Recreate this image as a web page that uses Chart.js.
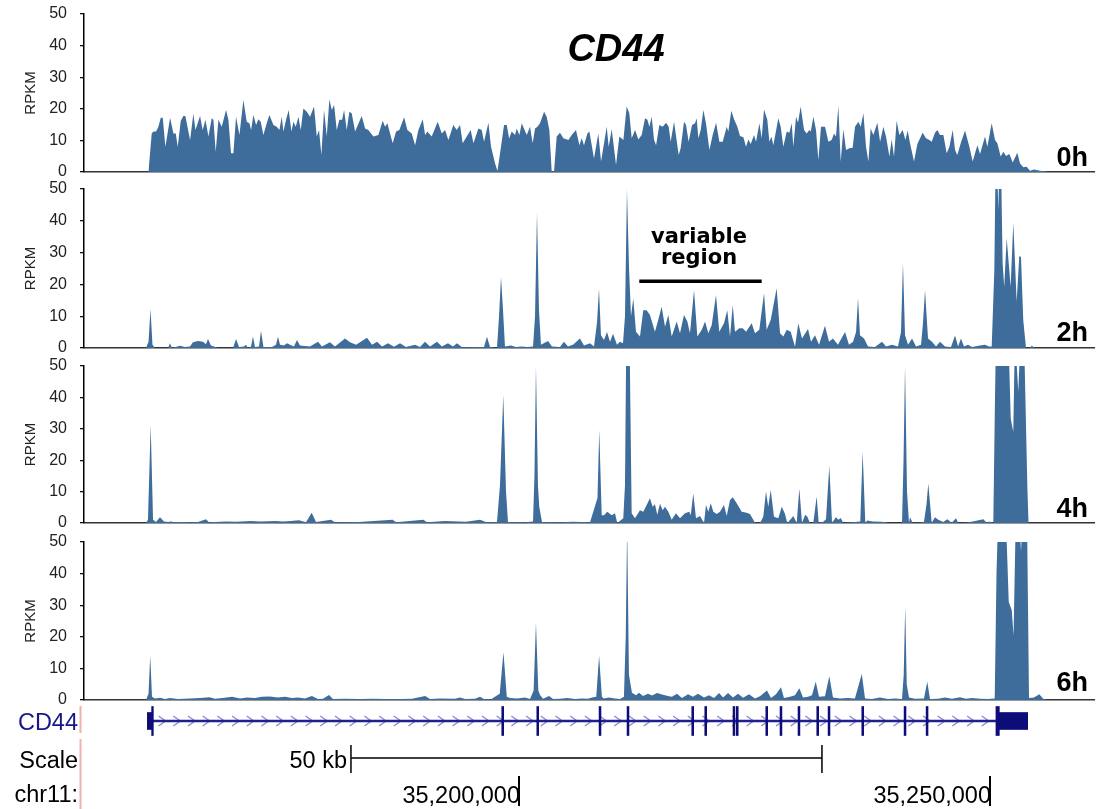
<!DOCTYPE html>
<html>
<head>
<meta charset="utf-8">
<script src="https://cdn.jsdelivr.net/npm/chart.js@4.4.1/dist/chart.umd.min.js"></script>
<style>
  html, body { margin: 0; padding: 0; background: #fff; }
  body { width: 1097px; height: 809px; position: relative; overflow: hidden;
         font-family: "Liberation Sans", Arial, Helvetica, sans-serif; }
  canvas { position: absolute; left: 0; }
  .lbl { position: absolute; line-height: 1; white-space: nowrap; color: #000; }
  .hour { right: 9px; font-size: 27px; font-weight: bold; }
  .title { left: 516px; width: 200px; text-align: center; top: 29px;
           font-size: 38px; font-weight: bold; font-style: italic; }
  .region { left: 599px; width: 200px; text-align: center; font-size: 21px;
            font-weight: bold; font-family: "DejaVu Sans", Verdana, sans-serif; }
</style>
</head>
<body>
<canvas id="t0" width="1097" height="200"></canvas>
<canvas id="t1" width="1097" height="200"></canvas>
<canvas id="t2" width="1097" height="200"></canvas>
<canvas id="t3" width="1097" height="200"></canvas>
<canvas id="gene" width="1097" height="109"></canvas>
<div class="lbl title">CD44</div>
<div class="lbl hour" style="top:144px">0h</div>
<div class="lbl hour" style="top:319px">2h</div>
<div class="lbl hour" style="top:495px">4h</div>
<div class="lbl hour" style="top:669px">6h</div>
<div class="lbl region" style="top:226px">variable</div>
<div class="lbl region" style="top:247px">region</div>

<script>
// Genomic window on chr11, in kb
const X_MIN_KB = 35153.82;
const X_MAX_KB = 35261.04;
const Y_TICKS = [0, 10, 20, 30, 40, 50];

// Coverage tracks: [position (kb), RPKM]
const RPKM_0H = [[35160.66,0],[35161.01,12.2],[35161.19,12.8],[35161.47,12.8],[35161.72,14.3],[35161.97,17.2],[35162.18,17.2],[35162.46,8.0],[35162.96,17.2],[35163.31,12.2],[35163.56,12.2],[35163.77,8.0],[35164.09,16.1],[35164.37,17.7],[35164.58,17.7],[35165.08,10.1],[35165.43,18.4],[35165.65,13.3],[35166.14,17.7],[35166.42,13.3],[35166.71,16.5],[35167.03,11.2],[35167.38,17.0],[35167.56,16.5],[35167.80,6.4],[35168.09,16.5],[35168.44,14.3],[35168.90,19.6],[35169.15,16.5],[35169.43,5.9],[35169.68,5.9],[35169.96,17.5],[35170.32,11.7],[35170.74,22.8],[35171.09,15.9],[35171.38,15.4],[35171.56,13.3],[35171.80,18.0],[35172.09,14.9],[35172.33,16.7],[35172.58,15.9],[35172.86,11.7],[35173.22,15.4],[35173.50,18.0],[35173.93,14.9],[35174.28,14.3],[35174.56,13.3],[35174.81,17.5],[35174.99,12.8],[35175.27,16.5],[35175.55,19.6],[35175.84,12.8],[35176.05,15.9],[35176.30,14.3],[35176.58,17.5],[35176.83,13.3],[35177.11,20.1],[35177.47,19.1],[35177.82,17.5],[35178.24,20.7],[35178.53,11.2],[35178.77,13.3],[35179.02,5.4],[35179.30,19.6],[35179.59,11.2],[35179.87,23.0],[35180.12,19.6],[35180.37,21.2],[35180.65,13.3],[35180.93,16.5],[35181.22,16.5],[35181.43,19.6],[35181.71,13.3],[35181.99,19.1],[35182.24,18.6],[35182.60,12.8],[35183.30,17.7],[35183.66,13.8],[35184.01,13.3],[35184.54,11.2],[35185.07,11.7],[35185.53,16.2],[35185.78,14.3],[35186.03,15.4],[35186.31,12.2],[35186.59,9.1],[35186.95,12.8],[35187.30,13.3],[35187.80,17.3],[35188.15,13.3],[35188.61,12.2],[35188.97,8.5],[35189.32,13.3],[35189.78,16.7],[35190.03,11.7],[35190.27,12.8],[35190.73,11.2],[35191.37,15.9],[35191.80,12.2],[35192.15,13.3],[35192.50,10.1],[35193.03,14.9],[35193.39,13.3],[35193.74,14.9],[35194.02,9.1],[35194.45,11.2],[35194.87,13.3],[35195.16,9.1],[35195.69,13.8],[35196.04,13.3],[35196.29,9.6],[35196.75,15.6],[35197.03,8.0],[35197.46,2.7],[35197.71,0.3],[35197.99,5.9],[35198.41,14.9],[35198.70,14.9],[35198.95,10.6],[35199.23,12.8],[35199.58,11.7],[35199.76,13.8],[35200.04,11.7],[35200.29,15.4],[35200.82,11.7],
[35201.17,14.3],[35201.45,9.1],[35201.70,13.8],[35201.95,14.3],[35202.23,15.4],[35202.66,19.1],[35202.94,17.5],[35203.22,13.3],[35203.47,0.2],[35203.72,0.2],[35204.00,11.2],[35204.35,12.4],[35204.71,10.7],[35205.24,10.1],[35205.59,11.7],[35206.05,13.3],[35206.41,8.5],[35206.65,10.7],[35206.90,8.5],[35207.26,12.2],[35207.47,12.8],[35207.96,4.3],[35208.42,12.2],[35208.71,3.3],[35209.31,14.3],[35209.52,8.0],[35209.84,13.5],[35210.30,2.2],[35210.65,11.2],[35211.08,10.1],[35211.43,20.7],[35211.71,18.6],[35211.96,10.7],[35212.32,13.3],[35212.67,10.3],[35213.02,11.7],[35213.38,17.0],[35213.63,16.5],[35213.84,14.3],[35214.09,17.5],[35214.33,10.3],[35214.55,8.5],[35214.90,14.9],[35215.25,14.3],[35215.61,15.6],[35215.89,14.3],[35216.10,9.6],[35216.46,15.9],[35216.95,5.4],[35217.16,7.5],[35217.52,15.9],[35217.73,14.9],[35218.01,9.6],[35218.37,14.9],[35218.69,15.4],[35218.86,17.0],[35219.04,10.7],[35219.29,13.3],[35219.57,19.6],[35219.85,15.4],[35220.21,7.0],[35220.56,11.7],[35220.92,15.6],[35221.27,9.6],[35221.62,9.6],[35222.05,14.3],[35222.22,12.8],[35222.54,19.4],[35222.83,16.7],[35223.18,14.3],[35223.46,11.4],[35223.82,11.0],[35224.10,8.0],[35224.35,10.3],[35224.60,8.9],[35224.95,11.7],[35225.16,9.6],[35225.52,15.4],[35225.76,10.7],[35226.01,19.8],[35226.36,16.5],[35226.58,9.6],[35226.79,11.2],[35227.00,8.5],[35227.53,17.0],[35227.78,14.3],[35228.06,8.0],[35228.42,12.8],[35228.70,12.4],[35228.95,15.4],[35229.12,8.0],[35229.41,17.5],[35229.62,15.6],[35229.90,20.7],[35230.26,13.3],[35230.54,12.2],[35230.82,13.3],[35230.97,12.8],[35231.25,17.5],[35231.53,13.3],[35231.78,3.8],[35232.06,14.3],[35232.49,14.3],[35232.84,9.6],[35233.19,10.1],[35233.44,12.2],[35233.65,11.2],[35233.90,20.9],[35234.15,3.3],[35234.43,13.5],[35234.72,7.0],[35235.07,7.5],[35235.42,7.7],[35235.67,14.3],[35236.03,15.9],[35236.27,14.3],[35236.56,18.6],[35236.84,8.0],[35237.09,3.3],[35237.33,13.8],[35237.62,11.7],[35238.04,15.6],[35238.33,9.6],[35238.68,14.3],[35238.96,11.2],[35239.32,4.9],[35239.56,10.3],[35239.81,4.9],[35240.09,16.2],[35240.38,11.7],[35240.73,13.3],[35241.02,10.1],[35241.26,13.1],[35241.51,9.1],[35241.93,3.3],[35242.29,8.9],[35242.85,12.4],[35243.21,10.7],[35243.56,10.1],[35243.81,9.6],[35244.16,12.4],[35244.41,13.3],[35244.69,11.7],[35245.05,11.7],[35245.40,5.9],[35245.69,8.0],[35246.04,13.3],[35246.29,7.0],[35246.53,5.4],[35246.89,9.1],[35247.35,13.1],[35247.81,8.0],[35248.16,3.3],[35248.66,8.5],[35248.94,5.7],[35249.47,11.2],[35249.72,8.0],[35250.18,15.4],[35250.53,10.1],[35250.78,9.1],[35251.13,4.9],[35251.42,6.4],[35251.70,5.1],[35252.06,5.7],[35252.41,3.0],[35252.90,6.1],[35253.19,2.7],[35253.54,1.5],[35253.89,1.7],[35254.25,0.4],[35254.67,0.8],[35255.31,0.4],[35256.37,0]];

const RPKM_2H = [[35160.40,0],[35160.67,2],[35160.88,12.3],[35161.09,1],[35161.36,0],[35162.74,0],[35162.95,1.5],[35163.16,0],[35164.01,0.7],[35164.54,0.3],[35165.07,0.5],[35165.39,1.8],[35165.92,2.2],[35166.45,2.0],[35166.77,1.2],[35166.98,2.8],[35167.30,0.8],[35167.62,0.5],[35168.04,0],[35169.64,0],[35169.96,2.8],[35170.28,0.3],[35170.81,0.5],[35171.02,1],[35171.23,0],[35171.55,0.5],[35171.76,3.6],[35171.97,0.3],[35172.40,0.5],[35172.61,5.4],[35172.87,0.3],[35173.78,0.3],[35174.20,1],[35174.41,3.5],[35174.63,1],[35175.05,0.8],[35175.37,1.5],[35175.69,1.0],[35176.11,0.5],[35176.43,2.5],[35176.75,0.8],[35177.81,0.5],[35178.66,2],[35179.08,0.5],[35179.93,1.8],[35180.46,0.5],[35181.53,3],[35182.06,1.8],[35182.70,1],[35183.33,2.2],[35183.86,3.2],[35184.40,1],[35184.93,2],[35185.46,0.5],[35186.09,1.5],[35186.73,0.4],[35187.37,1.5],[35188.00,0.3],[35188.96,1],[35189.49,0.3],[35190.02,2],[35190.55,0.5],[35191.29,2],[35191.82,0.5],[35192.46,1.5],[35192.99,0.5],[35193.42,1.5],[35193.95,0.2],[35196.28,0.3],[35196.60,3.5],[35196.92,0.3],[35197.66,0],[35197.88,10],[35198.09,22.3],[35198.30,12],[35198.51,0.5],[35199.15,0.8],[35199.68,0.3],[35200.32,0.5],[35200.85,0.3],[35201.49,0.5],[35201.70,10],[35201.91,42.8],[35202.12,12],[35202.33,1],[35203.08,2.2],[35203.50,0.5],[35204.35,0.3],[35204.77,2],[35205.20,0.5],[35205.73,1],[35206.47,3],[35206.90,0.8],[35207.54,1.5],[35207.96,0.5],[35208.28,8],[35208.49,18.6],[35208.70,4],[35209.02,2.5],[35209.34,5],[35209.66,2],[35209.98,4.5],[35210.40,1],[35210.72,2],[35211.04,1.5],[35211.25,10],[35211.46,50],[35211.68,25],[35211.89,10],[35212.13,15.6],[35212.42,5.1],[35212.84,3.6],[35213.19,11.9],[35213.55,11.9],[35213.90,10.4],[35214.43,5.1],[35214.78,8.8],[35215.14,13.0],[35215.50,6.7],[35215.85,10.4],[35216.21,3.6],[35216.74,8.3],[35217.09,4.6],[35217.51,10.4],[35217.87,8.3],[35218.15,4.6],[35218.58,18.2],[35218.93,3.6],[35219.40,5.7],[35219.75,8.3],[35220.10,4.6],[35220.46,7.2],[35220.91,16.7],[35221.26,5.1],[35221.76,7.8],[35222.11,11.9],[35222.40,3.6],[35222.69,13.5],[35222.93,5.1],[35223.39,6.2],[35223.75,6.2],[35224.10,5.1],[35224.70,7.8],[35225.05,4.6],[35225.51,5.7],[35226.01,17.2],[35226.29,5.7],[35226.72,8.8],[35227.35,18.8],[35227.71,4.6],[35228.06,3.6],[35228.42,5.7],[35228.84,5.1],[35229.30,0.4],[35229.65,7.8],[35230.04,3],[35230.68,6],[35231.00,2],[35231.42,4],[35231.85,1],[35232.48,7],[35232.91,2],[35233.33,3],[35233.86,1],[35234.61,5],[35235.03,1],[35235.46,2],[35235.78,5],[35235.99,15.7],[35236.20,4],[35236.63,3],[35237.05,0.5],[35237.79,0.3],[35238.54,2],[35238.96,0.5],[35239.60,1],[35240.23,0.5],[35240.55,5],[35240.76,26.7],[35240.98,4],[35241.30,1],[35241.72,3],[35242.15,0.5],[35242.68,1],[35242.89,8],[35243.10,18.2],[35243.42,3],[35243.84,2],[35244.27,0.5],[35244.69,2],[35245.22,0.5],[35245.86,0.3],[35246.29,3.9],[35246.61,0.5],[35246.92,3],[35247.24,0.5],[35247.67,1],[35248.09,0.3],[35248.94,0.8],[35249.47,1],[35249.89,0.5],[35250.18,0.5],[35250.46,24.5],[35250.60,60],[35250.74,60],[35250.88,43.4],[35251.02,60],[35251.16,60],[35251.34,26.6],[35251.51,19.3],[35251.77,34.5],[35252.19,19.3],[35252.47,39.4],[35252.83,14.6],[35253.11,28.9],[35253.29,28.6],[35253.53,8.8],[35253.82,0],[35254.24,0],[35254.45,0.8],[35254.67,0]];

const RPKM_4H = [[35160.40,0],[35160.61,1],[35160.90,31.2],[35161.15,1],[35161.46,0.3],[35161.89,1.8],[35162.31,0.5],[35162.74,0.3],[35163.06,0.5],[35163.27,0.3],[35164.54,0.3],[35165.07,0.2],[35165.92,0.3],[35166.77,1.2],[35167.09,0.2],[35168.89,0.5],[35169.96,0.4],[35171.55,0.6],[35172.51,0.5],[35174.20,0.6],[35174.94,0.5],[35175.79,0.6],[35176.64,0.9],[35177.39,0.2],[35177.99,3.3],[35178.45,0.3],[35180.04,1],[35180.46,0.2],[35183.01,0.3],[35186.59,1],[35186.94,0.2],[35189.84,1],[35190.23,0.2],[35192.14,0.6],[35194.37,0.4],[35195.86,1],[35196.49,0.3],[35197.66,0.2],[35197.98,12],[35198.33,40.8],[35198.62,10],[35198.83,0.3],[35200.64,0.2],[35201.49,0.5],[35201.64,15],[35201.80,50],[35202.01,12],[35202.15,5.2],[35202.44,0.3],[35204.35,0.2],[35205.73,0.4],[35207.54,0.2],[35208.33,8],[35208.52,29.6],[35208.78,2.5],[35209.02,2.5],[35209.37,3.6],[35209.84,2.5],[35210.19,3.1],[35210.43,0],[35211.07,1.5],[35211.25,12],[35211.39,60],[35211.73,60],[35211.96,3.1],[35212.31,1.5],[35212.84,4.1],[35213.19,3.6],[35213.55,5.7],[35213.90,7.9],[35214.19,5.2],[35214.43,6.0],[35214.68,2.6],[35214.97,6.1],[35215.25,4.1],[35215.50,5.2],[35215.85,3.6],[35216.21,1],[35216.66,3.1],[35217.09,1.5],[35217.62,3.1],[35218.08,3.6],[35218.23,2.5],[35218.50,9.4],[35218.79,1.5],[35219.21,2.2],[35219.64,0],[35219.85,5.7],[35220.10,3.6],[35220.35,6.3],[35220.63,3.6],[35220.98,2.9],[35221.34,3.6],[35221.76,5.7],[35222.05,2.2],[35222.40,7.3],[35222.69,8.2],[35223.11,6.3],[35223.64,3.6],[35224.17,3.3],[35224.52,2.9],[35225.05,0.1],[35225.58,0],[35225.93,2],[35226.22,10],[35226.46,5.2],[35226.72,10.5],[35227.07,2],[35227.53,1.5],[35227.89,5.2],[35228.24,2.9],[35228.48,0],[35228.84,1.2],[35229.12,2.2],[35229.48,0],[35229.76,11],[35230.04,0.1],[35230.39,2.6],[35230.61,2],[35230.89,0],[35231.24,0.1],[35231.60,8.4],[35231.81,0.1],[35232.30,0.4],[35232.59,1.2],[35232.94,18.2],[35233.23,0.1],[35233.65,1.8],[35233.90,1],[35234.15,1.6],[35234.43,0],[35236.23,0.5],[35236.48,22.7],[35236.76,0],[35236.97,0.8],[35237.55,0.5],[35238.50,0.4],[35239.39,0],[35240.66,0],[35240.82,20],[35240.98,50],[35241.19,10],[35241.40,0],[35241.51,1.8],[35241.79,0],[35242.57,0.1],[35242.99,0.4],[35243.26,6],[35243.45,12.6],[35243.81,0.1],[35244.16,1.8],[35244.51,1],[35245.04,0.3],[35245.47,1.2],[35245.93,0.1],[35246.39,1.5],[35246.63,0],[35247.53,0.1],[35249.29,1.2],[35249.65,0.1],[35249.92,0.5],[35250.35,0],[35250.53,40],[35250.64,60],[35251.95,60],[35252.20,33.3],[35252.47,29.1],[35252.65,60],[35253.00,41.8],[35253.26,60],[35253.61,60],[35253.96,12],[35254.09,0],[35254.45,0]];

const RPKM_6H = [[35160.40,0],[35160.67,2],[35160.85,14.0],[35161.04,1],[35161.36,0.5],[35161.89,0.7],[35162.42,0.3],[35162.95,0.6],[35163.80,0.3],[35165.07,0.5],[35166.13,0.6],[35167.15,0.9],[35167.72,0.4],[35168.78,0.7],[35169.53,1],[35170.38,0.5],[35171.12,0.8],[35171.97,0.6],[35172.71,1],[35173.56,1.1],[35174.41,0.8],[35175.15,1.0],[35175.90,0.6],[35176.54,0.8],[35177.28,0.5],[35178.01,1.3],[35178.66,0.3],[35179.19,0.4],[35179.83,1.6],[35180.25,0.3],[35181.53,0.4],[35183.12,0.3],[35184.40,0.4],[35185.78,0.3],[35187.37,0.3],[35188.64,0.4],[35190.04,1.3],[35190.55,0.3],[35191.61,0.5],[35193.20,0.4],[35193.74,0.8],[35194.27,0.3],[35195.33,0.4],[35195.86,1],[35196.28,0.3],[35197.03,0.2],[35197.95,2],[35198.35,15.1],[35198.70,1],[35199.04,0.6],[35199.79,0.5],[35200.64,0.8],[35201.17,0.3],[35201.55,3],[35201.80,24.4],[35202.05,3],[35202.25,1.5],[35202.55,0.4],[35203.19,1.3],[35203.61,0.3],[35204.35,0.4],[35205.10,0.6],[35205.94,0.3],[35206.69,0.5],[35207.32,0.4],[35207.75,0.8],[35208.20,1],[35208.50,14.0],[35208.80,1],[35209.00,0.5],[35209.55,0.8],[35210.19,0.5],[35210.72,0.3],[35211.14,1],[35211.33,20],[35211.48,55],[35211.67,8],[35211.99,2.3],[35212.42,1.5],[35212.74,2.3],[35213.16,1.3],[35213.69,2.0],[35214.12,1.4],[35214.65,2.2],[35215.28,1.7],[35215.81,1.3],[35216.23,1.0],[35216.77,2.0],[35217.30,0.6],[35217.94,1.8],[35218.47,1.0],[35219.00,2.0],[35219.64,0.8],[35220.17,1.5],[35220.70,0.6],[35221.24,2.2],[35221.66,0.8],[35222.19,2.2],[35222.72,0.8],[35223.25,2.0],[35223.79,0.7],[35224.42,1.8],[35225.05,0.5],[35225.58,1.2],[35226.32,3.0],[35226.75,0.6],[35227.28,1.8],[35227.81,4.0],[35228.13,0.6],[35228.77,1],[35229.30,1.5],[35229.76,3.7],[35230.15,0.8],[35230.68,1],[35231.10,1.5],[35231.50,5.8],[35231.85,1.0],[35232.48,1.2],[35232.94,7.5],[35233.33,0.8],[35234.07,0.5],[35234.92,0.6],[35235.66,0.5],[35236.39,8.3],[35236.73,0.5],[35237.47,0.3],[35238.32,0.8],[35239.17,0.3],[35239.91,0.5],[35240.66,0.3],[35240.84,8],[35241.00,29.7],[35241.16,5],[35241.40,0.8],[35242.04,0.4],[35242.99,0.5],[35243.34,5.8],[35243.63,0.3],[35244.48,0.4],[35245.22,0.8],[35245.96,0.4],[35246.81,0.9],[35247.45,0.4],[35248.09,0.6],[35248.94,0.4],[35249.79,0.3],[35250.50,0.5],[35250.69,40],[35250.88,60],[35251.66,60],[35251.99,31],[35252.31,28.4],[35252.50,20.4],[35252.75,60],[35253.07,60],[35253.29,47],[35253.50,60],[35253.92,60],[35254.14,0.6],[35254.67,0.8],[35255.24,1.8],[35255.62,0.5],[35256.04,0]];

// CD44 gene model (kb): untranslated ends, coding exons and the transcribed span
const GENE_NAME = 'CD44';
const GENE_UTR = [[35160.54,35161.00],[35250.99,35254.00]];
const GENE_CDS = [[35161.00,35161.18],[35198.17,35198.37],[35201.89,35202.09],[35208.50,35208.70],[35211.47,35211.67],[35218.34,35218.54],[35219.72,35219.92],[35222.72,35222.92],[35223.07,35223.27],[35226.20,35226.40],[35227.71,35227.91],[35229.62,35229.82],[35231.61,35231.81],[35232.81,35233.01],[35236.39,35236.59],[35240.88,35241.08],[35243.22,35243.42],[35250.63,35250.99]];
const GENE_SPAN = [35161.10, 35250.80];

// Ruler
const SCALE_BAR_KB = [35182.16, 35232.16];
const CHROM = 'chr11';
const COORD_TICKS_BP = [35200000, 35250000];

// Highlighted stretch on the 2h track
const VARIABLE_REGION_KB = [35212.77, 35225.76];
const VARIABLE_REGION_LEVEL = 21;

const FILL = '#3e6c9b';
const NAVY = '#0d0d7a';
const FONT = '"Liberation Sans", Arial, Helvetica, sans-serif';

const PANELS = [
  { id: 't0', top: 14,  bottom: 172, data: RPKM_0H },
  { id: 't1', top: 189, bottom: 348, data: RPKM_2H, region: true },
  { id: 't2', top: 366, bottom: 523, data: RPKM_4H },
  { id: 't3', top: 542, bottom: 700, data: RPKM_6H }
];

const regionBar = {
  id: 'regionBar',
  afterDatasetsDraw(chart) {
    if (!chart.options.plugins.regionBar.show) return;
    const { ctx, scales: { x, y } } = chart;
    const x0 = x.getPixelForValue(VARIABLE_REGION_KB[0]);
    const x1 = x.getPixelForValue(VARIABLE_REGION_KB[1]);
    const py = y.getPixelForValue(VARIABLE_REGION_LEVEL);
    ctx.save();
    ctx.strokeStyle = '#000';
    ctx.lineWidth = 3.5;
    ctx.beginPath(); ctx.moveTo(x0, py); ctx.lineTo(x1, py); ctx.stroke();
    ctx.restore();
  }
};

// room for the axis label half-heights plus tick padding
const PAD = 24;
PANELS.forEach(p => {
  const cv = document.getElementById(p.id);
  const h = p.bottom - p.top + 2 * PAD;
  cv.height = h;
  cv.style.top = (p.top - PAD) + 'px';
  cv.style.width = '1097px';
  cv.style.height = h + 'px';
  new Chart(cv, {
    type: 'line',
    data: {
      datasets: [{
        data: p.data.map(([x, y]) => ({ x, y })),
        backgroundColor: FILL,
        borderColor: 'rgba(0,0,0,0)',
        borderWidth: 0,
        pointRadius: 0,
        tension: 0,
        fill: 'origin'
      }]
    },
    options: {
      responsive: false,
      animation: false,
      events: [],
      layout: { padding: { left: 0, right: 3, top: PAD, bottom: PAD } },
      plugins: { legend: { display: false }, tooltip: { enabled: false },
                 regionBar: { show: !!p.region } },
      scales: {
        x: {
          type: 'linear', min: X_MIN_KB, max: X_MAX_KB,
          ticks: { display: false },
          grid: { display: false, drawTicks: false },
          border: { display: true, color: '#333', width: 1.6 },
          afterFit(s) { s.height = 0; }
        },
        y: {
          min: 0, max: 50,
          afterBuildTicks(s) { s.ticks = Y_TICKS.map(v => ({ value: v })); },
          ticks: { color: '#222', padding: 13, font: { family: FONT, size: 16 } },
          grid: { drawOnChartArea: false, drawTicks: true, tickLength: 4, color: '#111', lineWidth: 1.3 },
          border: { display: true, color: '#000', width: 1.5 },
          title: { display: true, text: 'RPKM', color: '#222',
                   font: { family: FONT, size: 15 }, padding: { top: 22, bottom: 0 } },
          afterFit(s) { s.width = 84; }
        }
      }
    },
    plugins: [regionBar]
  });
});

// Gene model, ruler and coordinates
const GENE_TOP = 700;
const geneDecor = {
  id: 'geneDecor',
  beforeDatasetsDraw(chart) {
    const { ctx, chartArea, scales: { x } } = chart;
    const yMid = (chartArea.top + chartArea.bottom) / 2;
    const x0 = x.getPixelForValue(GENE_SPAN[0]);
    const x1 = x.getPixelForValue(GENE_SPAN[1]);
    ctx.save();
    ctx.strokeStyle = '#8c8cd2';
    ctx.lineWidth = 1.4;
    for (let px = x0 + 10; px < x1 - 4; px += 14.7) {
      ctx.beginPath();
      ctx.moveTo(px - 4, yMid - 5);
      ctx.lineTo(px + 3, yMid);
      ctx.lineTo(px - 4, yMid + 5);
      ctx.stroke();
    }
    ctx.restore();
  },
  afterDraw(chart) {
    const { ctx, scales: { x } } = chart;
    const Y = v => v - GENE_TOP;
    ctx.save();
    // track labels at the left
    ctx.font = '23.5px ' + FONT;
    ctx.textAlign = 'right';
    ctx.textBaseline = 'alphabetic';
    ctx.fillStyle = '#17178a';
    ctx.fillText(GENE_NAME, 78, Y(730));
    ctx.fillStyle = '#000';
    ctx.fillText('Scale', 78, Y(768));
    ctx.fillText(CHROM + ':', 78, Y(802));
    // separators
    ctx.strokeStyle = '#f2b0b0';
    ctx.lineWidth = 2;
    ctx.beginPath();
    ctx.moveTo(80.5, Y(706)); ctx.lineTo(80.5, Y(733));
    ctx.moveTo(80.5, Y(739)); ctx.lineTo(80.5, Y(809));
    ctx.stroke();
    // scale bar
    const s0 = x.getPixelForValue(SCALE_BAR_KB[0]);
    const s1 = x.getPixelForValue(SCALE_BAR_KB[1]);
    ctx.strokeStyle = '#000';
    ctx.lineWidth = 1.5;
    ctx.beginPath();
    ctx.moveTo(s0, Y(758)); ctx.lineTo(s1, Y(758));
    ctx.moveTo(s0, Y(745)); ctx.lineTo(s0, Y(773));
    ctx.moveTo(s1, Y(745)); ctx.lineTo(s1, Y(773));
    ctx.stroke();
    ctx.fillText(Math.round(SCALE_BAR_KB[1] - SCALE_BAR_KB[0]) + ' kb', s0 - 4, Y(768));
    // chromosome coordinates
    ctx.lineWidth = 2;
    COORD_TICKS_BP.forEach(bp => {
      const px = x.getPixelForValue(bp / 1000);
      ctx.beginPath(); ctx.moveTo(px, Y(776)); ctx.lineTo(px, Y(806)); ctx.stroke();
      ctx.fillText(bp.toLocaleString('en-US'), px + 1, Y(803));
    });
    ctx.restore();
  }
};

const gcv = document.getElementById('gene');
gcv.style.top = GENE_TOP + 'px';
gcv.style.width = '1097px';
gcv.style.height = '109px';
const span = (arr) => arr.map(([a, b]) => ({ x: [a, b], y: GENE_NAME }));
new Chart(gcv, {
  type: 'bar',
  data: {
    labels: [GENE_NAME],
    datasets: [
      { data: span(GENE_CDS), backgroundColor: NAVY, barThickness: 29, grouped: false, borderWidth: 0 },
      { data: span(GENE_UTR), backgroundColor: NAVY, barThickness: 17, grouped: false, borderWidth: 0 },
      { data: span([GENE_SPAN]), backgroundColor: '#20208a', barThickness: 2, grouped: false, borderWidth: 0 }
    ]
  },
  options: {
    indexAxis: 'y',
    responsive: false,
    animation: false,
    events: [],
    layout: { padding: { left: 84, right: 3, top: 6, bottom: 73 } },
    plugins: { legend: { display: false }, tooltip: { enabled: false } },
    scales: {
      x: { type: 'linear', min: X_MIN_KB, max: X_MAX_KB, display: false },
      y: { type: 'category', display: false }
    }
  },
  plugins: [geneDecor]
});
</script>
</body>
</html>
